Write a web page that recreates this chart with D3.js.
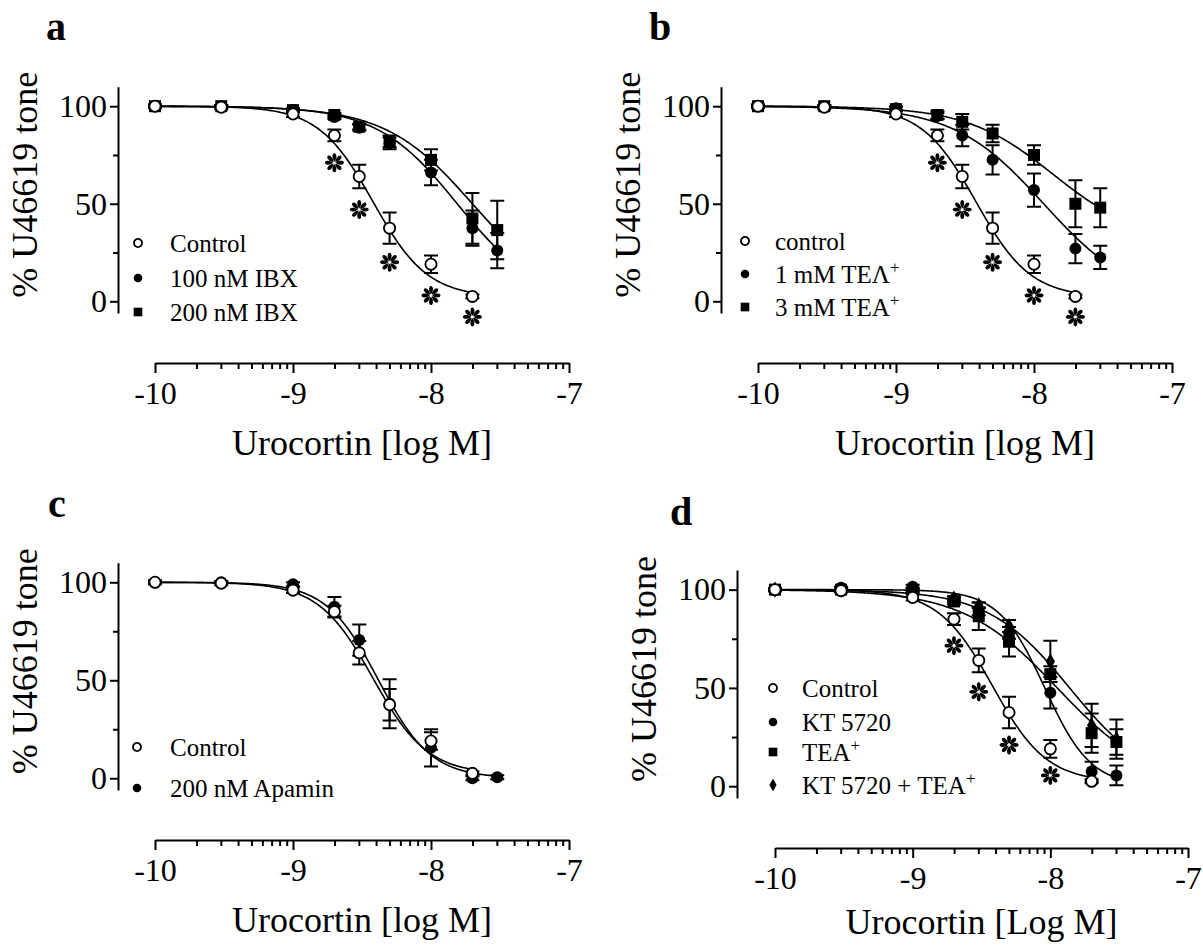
<!DOCTYPE html>
<html>
<head>
<meta charset="utf-8">
<script src="https://cdn.jsdelivr.net/npm/d3@7"></script>
<style>
  body { margin: 0; background: #fff; }
  svg { display: block; font-family: "Liberation Serif", "Times New Roman", serif; }
  text { font-family: "Liberation Serif", "Times New Roman", serif; }
</style>
</head>
<body>
<svg id="chart" width="1203" height="945"></svg>
<script>
// log concentrations used in every panel
var LOG_DOSE = [-10, -9.52, -9, -8.7, -8.52, -8.3, -8, -7.7, -7.52];

// mean, SEM and fitted curve (top, bottom, logEC50, hill) per group
var CONTROL_MEAN = [100, 99.5, 96, 85, 64, 37.5, 19, 2.5];
var CONTROL_SEM  = [1, 1, 1.5, 3, 6, 8, 4.5, 1];
var CONTROL_FIT  = [100, 2, -8.42, 2.2];

var IBX100_MEAN = [100, 100, 98, 94.5, 89, 81, 66, 37.5, 26];
var IBX100_SEM  = [0.5, 0.5, 1, 1, 1.5, 3, 6.5, 9, 9];
var IBX100_FIT  = [100, 0, -7.81, 1.5];

var IBX200_MEAN = [100, 100, 98, 95.5, 89.5, 82, 72.5, 42.5, 36.5];
var IBX200_SEM  = [0.5, 0.5, 1, 1, 1.5, 3, 5.5, 13, 15];
var IBX200_FIT  = [100, 0, -7.7, 1.38];

var TEA1_MEAN = [100, 100, 99, 95, 85, 72.5, 57, 27, 22.5];
var TEA1_SEM  = [0.5, 0.5, 1, 1.5, 5.5, 7.5, 8.5, 7.5, 6];
var TEA1_FIT  = [100, 0, -7.93, 1.34];

var TEA3_MEAN = [100, 100, 98.5, 95.5, 92, 86, 75, 50, 48];
var TEA3_SEM  = [0.5, 0.5, 1, 2, 4, 4.5, 5, 12, 10];
var TEA3_FIT  = [100, 30, -7.86, 1.38];

var APAMIN_MEAN = [100, 100, 99, 87.5, 70.5, 38, 15.5, 0, 0.5];
var APAMIN_SEM  = [0.5, 0.5, 1, 5, 8, 12.5, 9.5, 1, 1];
var APAMIN_FIT  = [100, 0, -8.38, 2.29];

var KT_MEAN = [100, 101, 101.5, 95, 89, 78, 47.5, 7.5, 5.5];
var KT_SEM  = [0.5, 0.5, 1, 1.5, 2, 3, 8, 5, 5];
var KT_FIT  = [100, 0, -8.04, 2.6];

var TEA_MEAN = [100, 100, 99.5, 94, 86.5, 73.5, 57, 27, 22.5];
var TEA_SEM  = [0.5, 0.5, 1, 1.5, 7, 7.5, 4, 10, 6.5];
var TEA_FIT  = [100, 0, -7.95, 1.27];

var KTTEA_MEAN = [100, 100, 100, 95.5, 92, 81.5, 63.5, 31, 24];
var KTTEA_SEM  = [0.5, 0.5, 1, 1, 1.5, 3, 10.5, 11, 10];
var KTTEA_FIT  = [100, 0, -7.86, 1.47];

// significance marks
var STAR_DOSE_AB = [-8.7, -8.52, -8.3, -8, -7.7];
var STAR_Y_AB    = [71, 47, 20, 3, -8];
var STAR_DOSE_D  = [-8.7, -8.52, -8.3, -8];
var STAR_Y_D     = [71.5, 48, 21, 5.5];

var X_TICKS = [-10, -9, -8, -7];
var Y_TICKS = [0, 50, 100];
var Y_MINOR = [25, 75];
var LOG_MINOR = [2, 3, 4, 5, 6, 7, 8, 9];

var PANELS = [
    {letter: 'a', lx: 46, ly: 40, axisX: 118, xr: [155, 569], y0: 313, y100: 86.7, xAxisY: 363,
     title: 'Urocortin [log M]', titleDy: 92, legX: 138, textX: 170,
     stars: [STAR_DOSE_AB, STAR_Y_AB],
     series: [
        {label: ['Control'], mean: CONTROL_MEAN, sem: CONTROL_SEM, fit: CONTROL_FIT, shape: 'open', row: 243},
        {label: ['100 nM IBX'], mean: IBX100_MEAN, sem: IBX100_SEM, fit: IBX100_FIT, shape: 'circle', row: 278},
        {label: ['200 nM IBX'], mean: IBX200_MEAN, sem: IBX200_SEM, fit: IBX200_FIT, shape: 'square', row: 312}
     ]},
    {letter: 'b', lx: 649, ly: 40, axisX: 721, xr: [758, 1172], y0: 313, y100: 86.7, xAxisY: 363,
     title: 'Urocortin [log M]', titleDy: 92, legX: 745, textX: 775,
     stars: [STAR_DOSE_AB, STAR_Y_AB],
     series: [
        {label: ['control'], mean: CONTROL_MEAN, sem: CONTROL_SEM, fit: CONTROL_FIT, shape: 'open', row: 241},
        {label: ['1 mM TE\u039B', '+'], mean: TEA1_MEAN, sem: TEA1_SEM, fit: TEA1_FIT, shape: 'circle', row: 274},
        {label: ['3 mM TEA', '+'], mean: TEA3_MEAN, sem: TEA3_SEM, fit: TEA3_FIT, shape: 'square', row: 307}
     ]},
    {letter: 'c', lx: 48, ly: 517, axisX: 118, xr: [155, 569], y0: 790, y100: 562.7, xAxisY: 840,
     title: 'Urocortin [log M]', titleDy: 92, legX: 137, textX: 170,
     stars: null,
     series: [
        {label: ['Control'], mean: CONTROL_MEAN, sem: CONTROL_SEM, fit: CONTROL_FIT, shape: 'open', row: 747},
        {label: ['200 nM Apamin'], mean: APAMIN_MEAN, sem: APAMIN_SEM, fit: APAMIN_FIT, shape: 'circle', row: 788}
     ]},
    {letter: 'd', lx: 670, ly: 525, axisX: 737, xr: [775, 1188], y0: 798, y100: 570, xAxisY: 848,
     title: 'Urocortin [Log M]', titleDy: 86, legX: 773, textX: 802,
     stars: [STAR_DOSE_D, STAR_Y_D],
     series: [
        {label: ['Control'], mean: CONTROL_MEAN, sem: CONTROL_SEM, fit: CONTROL_FIT, shape: 'open', row: 688},
        {label: ['KT 5720'], mean: KT_MEAN, sem: KT_SEM, fit: KT_FIT, shape: 'circle', row: 722},
        {label: ['TEA', '+'], mean: TEA_MEAN, sem: TEA_SEM, fit: TEA_FIT, shape: 'square', row: 752},
        {label: ['KT 5720 + TEA', '+'], mean: KTTEA_MEAN, sem: KTTEA_SEM, fit: KTTEA_FIT, shape: 'diamond', row: 785}
     ]}
];

var svg = d3.select('#chart');

function logistic(p, x){
    return p[1] + (p[0] - p[1]) / (1 + Math.pow(10, (x - p[2]) * p[3]));
}

function marker(g, shape, big){
    var k = big ? 1 : 0.72;
    if (shape === 'open') {
        g.append('circle').attr('r', 5.6 * k).attr('fill', '#fff')
            .attr('stroke', '#000').attr('stroke-width', 1.8);
    } else if (shape === 'circle') {
        g.append('circle').attr('r', 6 * k).attr('fill', '#000');
    } else if (shape === 'square') {
        g.append('rect').attr('x', -6 * k).attr('y', -6 * k)
            .attr('width', 12 * k).attr('height', 12 * k).attr('fill', '#000');
    } else {
        g.append('path').attr('d', d3.symbol(d3.symbolDiamond, big ? 75 : 45)()).attr('fill', '#000');
    }
}

// teardrop-spoked asterisk, 8 petals
function star(g, cx, cy){
    var sg = g.append('g').attr('transform', 'translate(' + cx + ',' + cy + ')');
    d3.range(8).forEach(function(i){
        sg.append('path')
            .attr('d', 'M0,-1.2 C-2.6,-4 -2.6,-9.5 0,-9.5 C2.6,-9.5 2.6,-4 0,-1.2Z')
            .attr('transform', 'rotate(' + (i * 45) + ')')
            .attr('fill', '#000');
    });
}

function drawPanel(p){
    var x = d3.scaleLinear().domain([-10, -7]).range(p.xr);
    var y = d3.scaleLinear().domain([0, 100]).range([p.y0, p.y100]);
    y.domain([-6, 110]).range([y(-6), y(110)]);

    var g = svg.append('g');

    // panel letter
    g.append('text').attr('x', p.lx).attr('y', p.ly)
        .attr('font-size', 40).attr('font-weight', 'bold').text(p.letter);

    // y axis
    g.append('g').attr('transform', 'translate(' + p.axisX + ',0)')
        .call(d3.axisLeft(y).tickValues(Y_TICKS).tickSize(8).tickSizeOuter(0).tickPadding(3));
    g.append('g').attr('transform', 'translate(' + p.axisX + ',0)')
        .call(d3.axisLeft(y).tickValues(Y_MINOR).tickSize(5).tickFormat(''))
        .select('.domain').remove();

    // x axis, log style minor ticks
    var minor = [];
    d3.range(-10, -7).forEach(function(e){
        LOG_MINOR.forEach(function(m){ minor.push(e + Math.log10(m)); });
    });
    g.append('g').attr('transform', 'translate(0,' + p.xAxisY + ')')
        .call(d3.axisBottom(x).tickValues(X_TICKS).tickSize(10).tickSizeOuter(0).tickPadding(8)
            .tickFormat(function(d){ return String(d); }));
    g.append('g').attr('transform', 'translate(0,' + p.xAxisY + ')')
        .call(d3.axisBottom(x).tickValues(minor).tickSize(6).tickFormat(''))
        .select('.domain').remove();

    g.selectAll('.domain, .tick line').attr('stroke', '#000').attr('stroke-width', 2);
    g.selectAll('.tick text').attr('font-size', 32).attr('fill', '#000')
        .attr('font-family', '"Liberation Serif", serif');

    // axis titles
    g.append('text').attr('x', (p.xr[0] + p.xr[1]) / 2).attr('y', p.xAxisY + p.titleDy)
        .attr('text-anchor', 'middle').attr('font-size', 36).text(p.title);
    var yMid = (y(-6) + y(110)) / 2 - 15;
    g.append('text').attr('transform', 'translate(' + (p.axisX - 81) + ',' + yMid + ') rotate(-90)')
        .attr('text-anchor', 'middle').attr('font-size', 36).text('% U46619 tone');

    // fitted curves
    var line = d3.line().x(function(d){ return x(d[0]); }).y(function(d){ return y(d[1]); });
    p.series.forEach(function(s){
        var xEnd = LOG_DOSE[s.mean.length - 1];
        var pts = d3.range(-10, xEnd, 0.01).concat([xEnd]).map(function(v){ return [v, logistic(s.fit, v)]; });
        g.append('path').datum(pts).attr('d', line)
            .attr('fill', 'none').attr('stroke', '#000').attr('stroke-width', 1.6);
    });

    // error bars
    p.series.forEach(function(s){
        s.mean.forEach(function(m, i){
            var cx = x(LOG_DOSE[i]), hi = y(m + s.sem[i]), lo = y(m - s.sem[i]);
            g.append('path')
                .attr('d', 'M' + cx + ',' + hi + 'V' + lo + 'M' + (cx - 7) + ',' + hi + 'H' + (cx + 7) +
                    'M' + (cx - 7) + ',' + lo + 'H' + (cx + 7))
                .attr('stroke', '#000').attr('stroke-width', 2).attr('fill', 'none');
        });
    });

    // markers, control drawn last
    p.series.slice().reverse().forEach(function(s){
        s.mean.forEach(function(m, i){
            var mg = g.append('g').attr('transform', 'translate(' + x(LOG_DOSE[i]) + ',' + y(m) + ')');
            marker(mg, s.shape, true);
        });
    });

    // asterisks
    if (p.stars) {
        p.stars[0].forEach(function(d, i){
            star(g, x(d), y(p.stars[1][i]));
        });
    }

    // legend
    p.series.forEach(function(s){
        var lg = g.append('g').attr('transform', 'translate(' + p.legX + ',' + s.row + ')');
        marker(lg, s.shape, false);
        var t = g.append('text').attr('x', p.textX).attr('y', s.row + 9).attr('font-size', 25);
        t.append('tspan').text(s.label[0]);
        if (s.label[1]) {
            t.append('tspan').attr('dy', -10).attr('font-size', 17).text(s.label[1]);
        }
    });
}

PANELS.forEach(drawPanel);
</script>
</body>
</html>
